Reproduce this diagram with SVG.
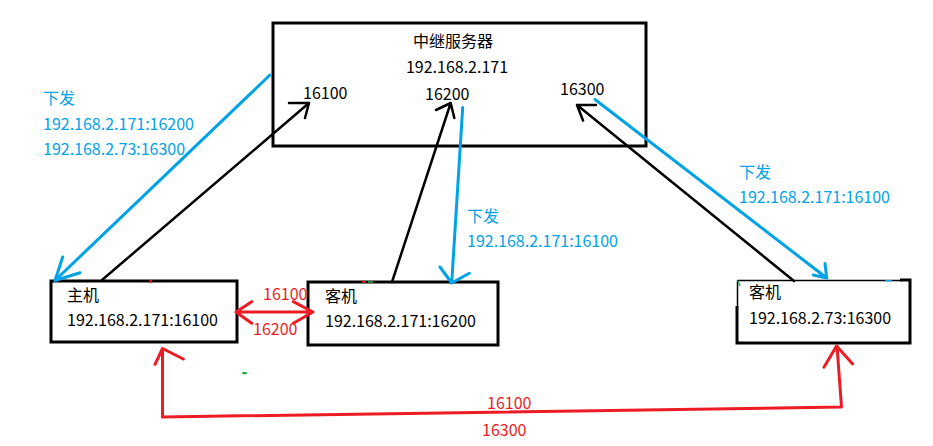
<svg xmlns="http://www.w3.org/2000/svg" width="933" height="446" viewBox="0 0 933 446">
<style>
text{font-family:"Noto Sans CJK SC","Noto Sans",sans-serif;font-size:16px;}
.t{fill:#000;}
.b{fill:#00A2E8;}
.r{fill:#ED1C24;}
.box{fill:#fff;stroke:#000;stroke-width:3;}
.k{stroke:#000;stroke-width:2.5;fill:none;stroke-linecap:round;stroke-linejoin:round;}
.bl{stroke:#00A2E8;stroke-width:3;fill:none;stroke-linecap:round;stroke-linejoin:round;}
.rd{stroke:#ED1C24;stroke-width:3;fill:none;stroke-linecap:round;stroke-linejoin:round;}
</style>
<rect width="933" height="446" fill="#fff"/>
<g id="server">
<rect class="box" x="273" y="23" width="373" height="123"/>
<text class="t" x="453" y="47" text-anchor="middle">中继服务器</text>
<text class="t" x="457" y="73" text-anchor="middle">192.168.2.171</text>
<text class="t" x="303" y="99">16100</text>
<text class="t" x="425" y="100">16200</text>
<text class="t" x="560" y="95">16300</text>
</g>
<g id="host">
<rect class="box" x="51" y="281" width="186" height="61"/>
<text class="t" x="67" y="301">主机</text>
<text class="t" x="67" y="326">192.168.2.171:16100</text>
</g>
<g id="guest1">
<rect class="box" x="308" y="282" width="190" height="63"/>
<text class="t" x="325" y="302">客机</text>
<text class="t" x="325" y="327">192.168.2.171:16200</text>
</g>
<g id="guest2">
<rect x="737" y="280" width="173" height="63" fill="#fff"/>
<path d="M737.5,280.5 H902" stroke="#000" stroke-width="1.5" fill="none"/>
<path d="M737.5,280.5 V307" stroke="#000" stroke-width="1.5" fill="none"/>
<path d="M900,280 H910 V343 H737 V306" stroke="#000" stroke-width="3" fill="none"/>
<text class="t" x="749" y="298">客机</text>
<text class="t" x="749" y="324">192.168.2.73:16300</text>
</g>
<g id="connectors">
<path class="k" d="M102,280 L309,103 M289,103 L309,103 L305,118"/>
<path class="k" d="M392,282 L450.7,103 M436,110 L450.7,103 L454.3,118"/>
<path class="k" d="M794,281 L577,105 M596,105 L577,105 L583,120.5"/>
<path class="bl" d="M270,75 L55,280.5 M62.7,257 L55,280.5 L80,272.7"/>
<path class="bl" d="M462.7,107.5 L451.7,283 M440,267 L451.7,283 L469.3,273.3"/>
<path class="bl" d="M595,99.5 L826.7,278 M825,263.5 L826.7,278 L813.3,275"/>
<path class="rd" d="M236,312 L313,312 M251.7,301.7 L236,312 L251.7,323.3 M293.3,301.7 L313,312 L293.3,323.3"/>
<path class="rd" d="M162.5,348.5 L162.5,417 L841.5,407 L837,346 M155,364.3 L162.5,348.5 L183.3,359 M824,367.3 L836.5,346 L852.7,364"/>
<path d="M150,283 L151,280" stroke="#ED1C24" stroke-width="2"/>
<path d="M362,281 L366,283" stroke="#ED1C24" stroke-width="1.5"/>
<path d="M368,282 L373,282" stroke="#22B14C" stroke-width="1.5"/>
<rect x="242.3" y="372" width="4.4" height="2.3" fill="#22B14C"/>
<path d="M738,281 L740,286" stroke="#22B14C" stroke-width="1.5"/>
<path d="M885,280.7 L892,280.7" stroke="#00A2E8" stroke-width="1.5"/>
</g>
<g id="labels">
<text class="b" x="43" y="104">下发</text>
<text class="b" x="43" y="130">192.168.2.171:16200</text>
<text class="b" x="43" y="155">192.168.2.73:16300</text>
<text class="b" x="467" y="222">下发</text>
<text class="b" x="467" y="247">192.168.2.171:16100</text>
<text class="b" x="739" y="178">下发</text>
<text class="b" x="739" y="203">192.168.2.171:16100</text>
<text class="r" x="263" y="300">16100</text>
<text class="r" x="253" y="335">16200</text>
<text class="r" x="487" y="409">16100</text>
<text class="r" x="482" y="436">16300</text>
</g>
</svg>
